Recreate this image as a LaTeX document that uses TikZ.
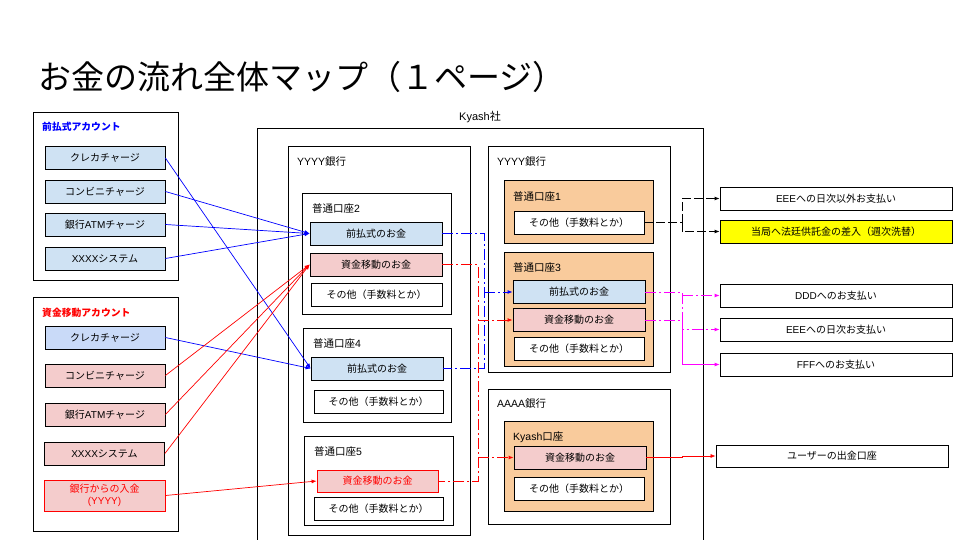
\documentclass[tikz,border=0pt]{standalone}
\usepackage{fontspec}
\setmainfont{Noto Sans CJK JP}
\newfontfamily\latinfont{Liberation Sans}
\usepackage{tikz}
\usetikzlibrary{positioning,calc,arrows.meta}
\usepackage{xcolor}
\definecolor{myBlueFill}{HTML}{CFE2F3}
\definecolor{myCardFill}{HTML}{C9DAF8}
\definecolor{myPinkFill}{HTML}{F4CCCC}
\definecolor{myOrangeFill}{HTML}{F9CB9C}
\definecolor{myBlue}{HTML}{0000FF}
\definecolor{myRed}{HTML}{FF0000}
\definecolor{myMagenta}{HTML}{FF00FF}
\definecolor{myYellow}{HTML}{FFFF00}

\begin{document}
\begin{tikzpicture}[
        x=1pt, y=-1pt,
        box/.style={draw=black, rectangle, align=center, font=\fontsize{10}{11.5}\selectfont, line width=0.8pt, minimum height=23pt, inner sep=0pt},
        frame/.style={draw=black, rectangle, line width=0.8pt, inner sep=0pt}, % containers
        acct/.style={frame, fill=myOrangeFill},
        boxlabel/.style={anchor=west, font=\fontsize{10.5}{12}\selectfont, inner sep=0pt},
        with tip/.style={-{Latex[length=5pt,width=4pt]}},
        blue arrow/.style={with tip, myBlue, line width=0.7pt},
        red arrow/.style={with tip, myRed, line width=0.7pt},
        blue dash/.style={myBlue, line width=0.9pt, dash pattern=on 11pt off 3pt on 2pt off 3pt},
        red dash/.style={myRed, line width=0.9pt, dash pattern=on 11pt off 3pt on 2pt off 3pt},
        pink dash/.style={myMagenta, line width=0.9pt, dash pattern=on 11pt off 3pt on 2pt off 3pt},
        black dash/.style={black, line width=0.9pt, dash pattern=on 9pt off 3pt}
    ]
    \useasboundingbox (0,0) rectangle (960,540);

    \node[anchor=west, font=\fontsize{33}{36}\selectfont, inner sep=0pt] (title) at (38,77) {お金の流れ全体マップ（１ページ）};

    % left: accounts
    \node[frame, minimum width=145pt, minimum height=168pt] (prepaid) at (105.5,196) {};
    \node[boxlabel, text=myBlue, font=\bfseries\fontsize{9.8}{11}\selectfont] (prepaidLabel) at (42,127) {前払式アカウント};
    \node[box, fill=myBlueFill, minimum width=120pt] (pCard) at (105,158) {クレカチャージ};
    \node[box, fill=myBlueFill, minimum width=120pt] (pConv) at (105,191.5) {コンビニチャージ};
    \node[box, fill=myBlueFill, minimum width=120pt] (pAtm) at (105,224.5) {銀行{\latinfont ATM}チャージ};
    \node[box, fill=myBlueFill, minimum width=120pt] (pSys) at (105,258.5) {{\latinfont XXXX}システム};

    \node[frame, minimum width=145pt, minimum height=234pt] (transfer) at (105.5,414) {};
    \node[boxlabel, text=myRed, font=\bfseries\fontsize{9.8}{11}\selectfont] (transferLabel) at (42,313) {資金移動アカウント};
    \node[box, fill=myCardFill, minimum width=120pt] (mCard) at (105,337.5) {クレカチャージ};
    \node[box, fill=myPinkFill, minimum width=120pt] (mConv) at (105,375.5) {コンビニチャージ};
    \node[box, fill=myPinkFill, minimum width=120pt] (mAtm) at (105,414.5) {銀行{\latinfont ATM}チャージ};
    \node[box, fill=myPinkFill, minimum width=120pt] (mSys) at (104.5,453.5) {{\latinfont XXXX}システム};
    \node[box, fill=myPinkFill, draw=myRed, text=myRed, minimum width=121pt, minimum height=31pt] (mBank) at (104.5,495.5) {銀行からの入金\\{\latinfont (YYYY)}};

    % Kyash
    \node[frame, minimum width=446pt, minimum height=420pt] (kyash) at (480,338) {};
    \node[font=\fontsize{11}{13}\selectfont, inner sep=0pt] (kyashLabel) at (480,117) {{\latinfont Kyash}社};

    % YYYY bank (left)
    \node[frame, minimum width=182pt, minimum height=389pt] (bankL) at (379,340.5) {};
    \node[boxlabel] (bankLLabel) at (297,162) {{\latinfont YYYY}銀行};

    \node[frame, minimum width=149pt, minimum height=121pt] (acct2) at (376.5,253.5) {};
    \node[boxlabel] (acct2Label) at (312,208) {普通口座{\latinfont 2}};
    \node[box, fill=myBlueFill, minimum width=132pt] (a2p) at (376,233.5) {前払式のお金};
    \node[box, fill=myPinkFill, minimum width=132pt] (a2m) at (376,264.5) {資金移動のお金};
    \node[box, minimum width=131pt] (a2o) at (376.5,294.5) {その他（手数料とか）};

    \node[frame, minimum width=148pt, minimum height=94pt] (acct4) at (377,375) {};
    \node[boxlabel] (acct4Label) at (313,343) {普通口座{\latinfont 4}};
    \node[box, fill=myBlueFill, minimum width=132pt] (a4p) at (377,368.5) {前払式のお金};
    \node[box, minimum width=129pt] (a4o) at (378.5,401.5) {その他（手数料とか）};

    \node[frame, minimum width=149pt, minimum height=89pt] (acct5) at (378.5,480.5) {};
    \node[boxlabel] (acct5Label) at (314,451) {普通口座{\latinfont 5}};
    \node[box, fill=myPinkFill, draw=myRed, text=myRed, minimum width=121pt, minimum height=22pt] (a5m) at (377.5,481) {資金移動のお金};
    \node[box, minimum width=129pt] (a5o) at (378.5,508.5) {その他（手数料とか）};

    % YYYY bank (right)
    \node[frame, minimum width=182pt, minimum height=226pt] (bankR) at (579,259) {};
    \node[boxlabel] (bankRLabel) at (497,162) {{\latinfont YYYY}銀行};

    \node[acct, minimum width=149pt, minimum height=63pt] (acct1) at (578.5,211.5) {};
    \node[boxlabel] (acct1Label) at (513,196) {普通口座{\latinfont 1}};
    \node[box, fill=white, minimum width=130pt] (a1o) at (579,222.5) {その他（手数料とか）};

    \node[acct, minimum width=149pt, minimum height=114pt] (acct3) at (578.5,309) {};
    \node[boxlabel] (acct3Label) at (513,267) {普通口座{\latinfont 3}};
    \node[box, fill=myBlueFill, minimum width=132pt] (a3p) at (579,292) {前払式のお金};
    \node[box, fill=myPinkFill, minimum width=132pt] (a3m) at (579,320) {資金移動のお金};
    \node[box, fill=white, minimum width=130pt] (a3o) at (579,348.5) {その他（手数料とか）};

    % AAAA bank
    \node[frame, minimum width=182pt, minimum height=135pt] (bankA) at (579,456.5) {};
    \node[boxlabel] (bankALabel) at (497,404) {{\latinfont AAAA}銀行};
    \node[acct, minimum width=149pt, minimum height=90pt] (kacct) at (578.5,466) {};
    \node[boxlabel] (kacctLabel) at (513,437) {{\latinfont Kyash}口座};
    \node[box, fill=myPinkFill, minimum width=132pt] (kam) at (580,457.5) {資金移動のお金};
    \node[box, fill=white, minimum width=130pt] (kao) at (579,488.5) {その他（手数料とか）};

    % right: payments
    \node[box, minimum width=232pt] (eee1) at (836,198.5) {{\latinfont EEE}への日次以外お支払い};
    \node[box, fill=myYellow, minimum width=232pt] (deposit) at (836,231.5) {当局へ法廷供託金の差入（週次洗替）};
    \node[box, minimum width=232pt] (ddd) at (836,295.5) {{\latinfont DDD}へのお支払い};
    \node[box, minimum width=232pt] (eee2) at (836,329.5) {{\latinfont EEE}への日次お支払い};
    \node[box, minimum width=232pt] (fff) at (836,364.5) {{\latinfont FFF}へのお支払い};
    \node[box, minimum width=232pt, minimum height=22pt] (user) at (832,456) {ユーザーの出金口座};

    \coordinate (bbus) at (484,0);
    \coordinate (rbus) at (478,0);
    \coordinate (kbus) at (682,0);

    \draw[blue arrow] (pCard.east) -- (a4p.west);
    \draw[blue arrow] (pConv.east) -- (a2p.west);
    \draw[blue arrow] (pAtm.east) -- (a2p.west);
    \draw[blue arrow] (pSys.east) -- (a2p.west);
    \draw[blue arrow] (mCard.east) -- (a4p.west);
    \draw[red arrow] (mConv.east) -- (a2m.west);
    \draw[red arrow] (mAtm.east) -- (a2m.west);
    \draw[red arrow] (mSys.east) -- (a2m.west);
    \draw[red arrow] (mBank.east) -- (a5m.west);

    \draw[blue dash] (a2p.east) -- (a2p.east -| bbus) -- (a4p.east -| bbus) -- (a4p.east);
    \draw[blue dash, with tip] (a3p.west -| bbus) -- (a3p.west);
    \draw[red dash] (a2m.east) -- (a2m.east -| rbus) -- (a5m.east -| rbus) -- (a5m.east);
    \draw[red dash, with tip] (a3m.west -| rbus) -- (a3m.west);
    \draw[red dash, with tip] (kam.west -| rbus) -- (kam.west);

    \draw[black dash] (a1o.east) -- (a1o.east -| kbus);
    \draw[black dash, with tip] (a1o.east -| kbus) |- (eee1.west);
    \draw[black dash, with tip] (a1o.east -| kbus) |- (deposit.west);

    \draw[pink dash] (a3p.east) -- (a3p.east -| kbus) -- (a3m.east -| kbus);
    \draw[pink dash, with tip] (ddd.west -| kbus) -- (ddd.west);
    \draw[pink dash, with tip] (a3m.east -| kbus) |- (eee2.west);
    \draw[pink dash] (a3m.east) -- (a3m.east -| kbus);
    \draw[myMagenta, line width=0.8pt, with tip] (a3m.east -| kbus) |- (fff.west);

    \draw[red arrow] (kam.east) -- ++(36,0) |- (user.west);
\end{tikzpicture}
\end{document}
